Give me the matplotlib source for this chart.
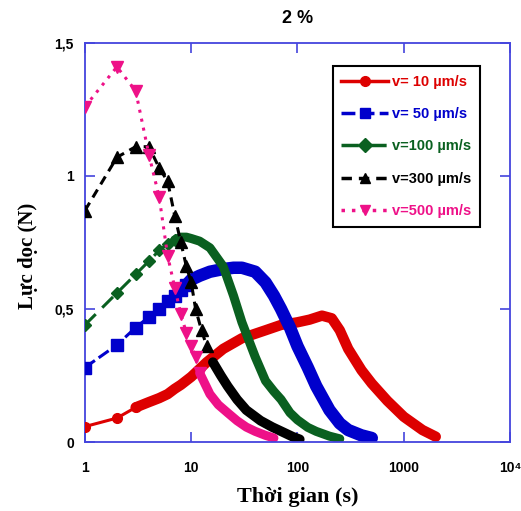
import matplotlib
matplotlib.use("Agg")
import matplotlib.pyplot as plt
from matplotlib.lines import Line2D
import numpy as np

# data (time in s, force in N)
red_t = [1, 2, 3, 4, 5, 6, 7, 8, 10, 14, 20, 30, 50, 70, 100, 130, 170, 210, 250, 300, 400, 500, 700, 1000, 1500, 2000]
red_F = [0.058, 0.09, 0.13, 0.15, 0.165, 0.18, 0.2, 0.215, 0.245, 0.3, 0.35, 0.39, 0.42, 0.44, 0.45, 0.46, 0.475, 0.465,
         0.42, 0.35, 0.27, 0.22, 0.155, 0.095, 0.045, 0.02]

blue_t = [1, 2, 3, 4, 5, 6, 7, 8, 9, 10, 12, 15, 20, 25, 30, 40, 50, 60, 70, 85, 100, 125, 150, 200, 250, 300, 400, 500]
blue_F = [0.28, 0.365, 0.43, 0.47, 0.5, 0.53, 0.55, 0.57, 0.59, 0.61, 0.625, 0.64, 0.65, 0.655, 0.655, 0.64, 0.6, 0.55,
          0.5, 0.43, 0.36, 0.28, 0.21, 0.12, 0.07, 0.045, 0.025, 0.015]

green_t = [1, 2, 3, 4, 5, 6, 7, 8, 9, 10, 12, 15, 20, 25, 30, 40, 50, 60, 70, 85, 100, 125, 150, 200, 250]
green_F = [0.44, 0.56, 0.63, 0.68, 0.72, 0.745, 0.76, 0.77, 0.77, 0.765, 0.755, 0.73, 0.66, 0.55, 0.45, 0.32, 0.23, 0.19,
           0.16, 0.11, 0.083, 0.055, 0.04, 0.022, 0.012]

black_t = [1, 2, 3, 4, 5, 6, 7, 8, 9, 10, 11, 12.5, 14, 16, 19, 22, 27, 33, 45, 58, 75, 90, 105]
black_F = [0.87, 1.07, 1.11, 1.11, 1.03, 0.98, 0.85, 0.75, 0.66, 0.6, 0.5, 0.42, 0.36, 0.3, 0.25, 0.21, 0.16, 0.12, 0.08,
           0.056, 0.035, 0.02, 0.01]

pink_t = [1, 2, 3, 4, 5, 6, 7, 8, 9, 10, 11, 12, 15, 18, 22, 27, 33, 40, 50, 60]
pink_F = [1.26, 1.41, 1.32, 1.08, 0.92, 0.7, 0.58, 0.48, 0.41, 0.36, 0.32, 0.26, 0.18, 0.14, 0.11, 0.08, 0.056, 0.04,
          0.025, 0.015]

labels = ["v= 10 µm/s", "v= 50 µm/s", "v=100 µm/s", "v=300 µm/s", "v=500 µm/s"]

# colour, marker, marker size, early line style, band starts at t, band width
series = [
    (red_t, red_F, "#dd0000", "o", 7, "-", 3, 7.5),
    (blue_t, blue_F, "#0000cc", "s", 8, (0, (4, 1.5)), 9, 9),
    (green_t, green_F, "#0a6020", "D", 6.5, (0, (5, 3)), 7, 6.5),
    (black_t, black_F, "black", "^", 8, (0, (3, 2)), 15, 7),
    (pink_t, pink_F, "#ee1188", "v", 8, (0, (1, 2)), 12, 6.5),
]

sans = ["Liberation Sans", "DejaVu Sans"]
serif = ["Liberation Serif", "DejaVu Serif"]

fig = plt.figure(figsize=(5.21, 5.11), dpi=100)
ax = fig.add_axes([0.163, 0.135, 0.816, 0.781])

handles = []
for t, F, c, m, ms, ls, band_from, bw in series:
    t = np.array(t)
    F = np.array(F)
    early = t <= band_from
    ax.plot(t[early], F[early], color=c, linestyle=ls, linewidth=2.2, marker=m, markersize=ms,
            markeredgecolor=c, markerfacecolor=c, zorder=3)
    sel = t >= band_from
    ax.plot(t[sel], F[sel], color=c, linewidth=bw, solid_capstyle="round",
            solid_joinstyle="round", zorder=2)
    handles.append(Line2D([], [], color=c, linestyle=ls, linewidth=2.5, marker=m,
                          markersize=7, markerfacecolor=c, markeredgecolor=c))

ax.set_xscale("log")
ax.set_xlim(1, 1e4)
ax.set_ylim(0, 1.5)
ax.set_xticks([1, 10, 100, 1000, 1e4])
ax.set_xticklabels(["1", "10", "100", "1000", "10⁴"])
ax.set_xticks([], minor=True)
ax.set_yticks([0, 0.5, 1, 1.5])
ax.set_yticklabels(["0", "0,5", "1", "1,5"])
ax.tick_params(direction="in", top=True, right=True, length=7, width=1.2, color="#4444dd")
ax.tick_params(axis="x", pad=14)
ax.tick_params(axis="y", pad=8)
for lab in ax.get_xticklabels() + ax.get_yticklabels():
    lab.set_family(sans)
    lab.set_fontweight("bold")
    lab.set_fontsize(10)
for s in ax.spines.values():
    s.set_color("#4444dd")
    s.set_linewidth(1.3)

ax.set_title("2 %", fontsize=13, fontweight="bold", family=sans, pad=14)
ax.set_xlabel("Thời gian (s)", fontsize=16, fontweight="bold", family=serif, labelpad=8)
ax.set_ylabel("Lực dọc (N)", fontsize=15, fontweight="bold", family=serif)
ax.yaxis.set_label_coords(-0.11, 0.466)

leg = ax.legend(handles, labels, loc="upper right", bbox_to_anchor=(0.946, 0.96),
                fancybox=False, edgecolor="black", framealpha=1, handlelength=3.2,
                handletextpad=0.25, labelspacing=1.25, borderpad=0.6,
                prop={"family": sans, "weight": "bold", "size": 10.5})
leg.get_frame().set_linewidth(1.5)
for txt, s in zip(leg.get_texts(), series):
    txt.set_color(s[2])

fig.savefig("out.png", dpi=100)
